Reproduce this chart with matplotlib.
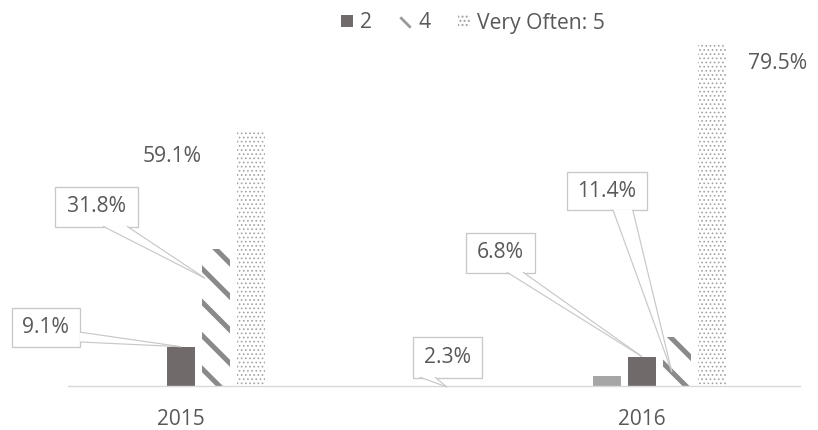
import matplotlib
matplotlib.use("Agg")
import matplotlib.pyplot as plt
from matplotlib.patches import Rectangle, Polygon
from matplotlib.lines import Line2D
from matplotlib.path import Path

# survey answers per year, share of respondents (%)
years = ["2015", "2016"]
never_1 = [0.0, 2.3]
often_2 = [9.1, 6.8]
often_4 = [31.8, 11.4]
very_often_5 = [59.1, 79.5]
legend_labels = ["2", "4", "Very Often: 5"]

text_col = "#595959"
line_col = "#c8c8c8"
stripe_col = "#8a8a8a"

plt.rcParams["font.family"] = ["Open Sans", "DejaVu Sans"]

fig = plt.figure(figsize=(8.18, 4.30), dpi=100)
ax = fig.add_axes([68 / 818, 0.103, 732 / 818, 0.7974])

x = list(range(len(years)))
slot = 0.0759
width = 0.0618

ax.bar([i - slot for i in x], never_1, width, color="#a6a6a6", linewidth=0, zorder=2)
b2 = ax.bar(x, often_2, width, color="#716a6a", linewidth=0, zorder=2)
with plt.rc_context({"hatch.linewidth": 3.6}):
    b4 = ax.bar([i + slot for i in x], often_4, width, color="white",
                edgecolor=stripe_col, hatch="\\", linewidth=0, zorder=2)
with plt.rc_context({"hatch.linewidth": 0.7}):
    b5 = ax.bar([i + 2 * slot for i in x], very_often_5, width, color="white",
                edgecolor="#a3a3a3", hatch="....", linewidth=0, zorder=2)

ax.set_xlim(-0.245, 1.343)
ax.set_ylim(0, 80)
for s in ["left", "right", "top"]:
    ax.spines[s].set_visible(False)
ax.spines["bottom"].set_color("#d9d9d9")
ax.spines["bottom"].set_linewidth(1.0)
ax.set_yticks([])
ax.set_xticks(x, years)
ax.tick_params(axis="x", length=0, pad=17, labelsize=15, labelcolor=text_col)


def callout(text, cx, cy, w, h, base, tip):
    ax.add_patch(Rectangle((cx - w / 2, cy - h / 2), w, h, facecolor="white",
                           edgecolor=line_col, linewidth=0.95, zorder=4, clip_on=False))
    ax.add_patch(Polygon([base[0], base[1], tip], closed=True, facecolor="white",
                         edgecolor="none", zorder=5, clip_on=False))
    for bx, by in base:
        ax.plot([bx, tip[0]], [by, tip[1]], color=line_col, lw=0.85,
                zorder=6, clip_on=False, solid_capstyle="butt")
    ax.text(cx, cy, text, ha="center", va="center", fontsize=15.2,
            color=text_col, zorder=7, clip_on=False)


# boxed labels with pointer wedges
callout(f"{often_2[0]}%", -0.293, 13.6, 0.1475, 9.1,
        [(-0.219, 12.5), (-0.219, 10.2)], (0.0, often_2[0]))
callout(f"{often_4[0]}%", -0.183, 41.7, 0.180, 9.33,
        [(-0.169, 37.2), (-0.117, 37.2)], (0.052, 25.1))
callout(f"{never_1[1]}%", 0.578, 6.6, 0.150, 9.57,
        [(0.518, 2.0), (0.551, 2.0)], (0.577, -0.3))
callout(f"{often_2[1]}%", 0.693, 31.0, 0.150, 9.33,
        [(0.707, 26.5), (0.742, 26.5)], (1.0, often_2[1]))
callout(f"{often_4[1]}%", 0.924, 45.4, 0.1735, 8.87,
        [(0.937, 41.1), (0.980, 41.1)], (1.065, 3.2))

# plain labels for the tall bars
ax.text(-0.0195, 53.4, f"{very_often_5[0]}%", ha="center", va="center",
        fontsize=15.2, color=text_col)
ax.text(1.295, 75.1, f"{very_often_5[1]}%", ha="center", va="center",
        fontsize=15.2, color=text_col, clip_on=False)

# the striped key is a single short stroke
stroke = Path([(-1, 1), (1, -1)], [Path.MOVETO, Path.LINETO])
key4 = Line2D([], [], linestyle="none", marker=stroke, markersize=7.5,
              markeredgewidth=2.0, markeredgecolor="#9a9a9a")

fig.legend([b2, key4, b5], legend_labels, loc="center",
           bbox_to_anchor=(473 / 818, 1 - 23 / 430), ncol=3, frameon=False,
           handlelength=0.55, handleheight=0.55, handletextpad=0.35,
           columnspacing=1.3, fontsize=15.2, labelcolor=text_col)

fig.savefig("out.png", dpi=100, facecolor="white")
